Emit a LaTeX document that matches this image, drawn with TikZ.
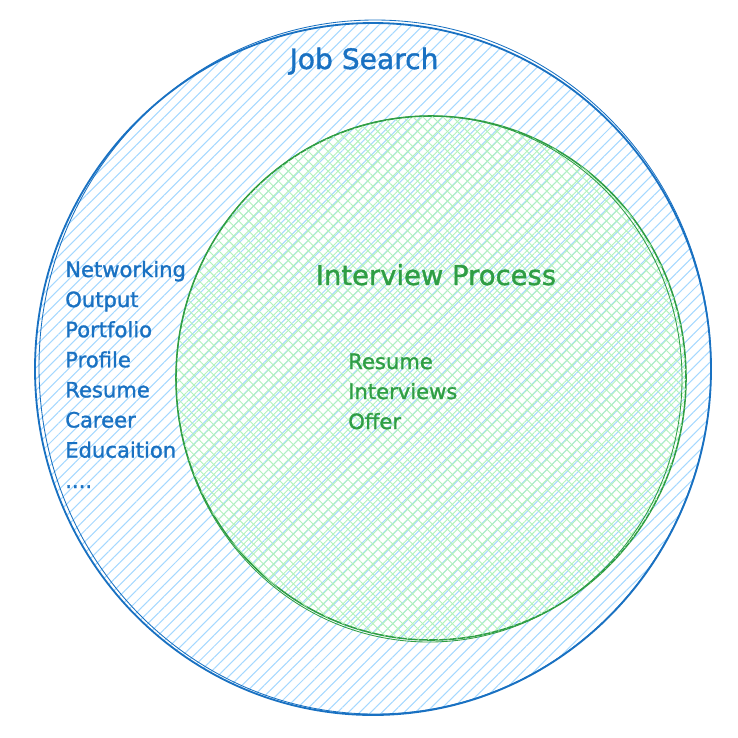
\documentclass[tikz,border=0pt]{standalone}
\usepackage{fontspec}
\setmainfont{DejaVu Sans}[BoldFont={DejaVu Sans},BoldFeatures={FakeBold=1.3}]
\usetikzlibrary{patterns.meta}
\definecolor{jsblue}{HTML}{1971C2}
\definecolor{jsbluefill}{HTML}{A5D8FF}
\definecolor{ipgreen}{HTML}{2F9E44}
\definecolor{ipgreenfill}{HTML}{B2F2BB}

\begin{document}
\begin{tikzpicture}[
    x=0.025cm, y=-0.025cm,
    % Zone styles: a hatched outer area and a cross-hatched inner area.
    jobzone/.style={
        draw=jsblue,
        line width=1.3pt,
        pattern={Lines[angle=45,distance=5.6pt,line width=0.75pt]},
        pattern color=jsbluefill
    },
    interviewzone/.style={
        draw=ipgreen,
        line width=1.1pt,
        pattern={Lines[angle=45,distance=5pt,line width=0.65pt]},
        pattern color=ipgreenfill
    },
    crosshatch/.style={
        pattern={Lines[angle=-45,distance=5pt,line width=0.65pt]},
        pattern color=ipgreenfill
    },
    sketch/.style={line width=0.6pt, fill=none},
    title/.style={anchor=base, inner sep=0pt, font=\bfseries\fontsize{20}{24}\selectfont},
    item/.style={anchor=base west, inner sep=0pt, font=\bfseries\fontsize{15}{18}\selectfont}
]
    \useasboundingbox (0,0) rectangle (738,738);

    % Outer circle: the whole job search.
    \draw[jobzone] (373,369) ellipse [x radius=338, y radius=346];
    \draw[sketch, draw=jsblue] (375,367) ellipse [x radius=336, y radius=347];

    % Inner circle: the interview process, drawn over the outer hatching.
    \draw[interviewzone] (431,378) ellipse [x radius=255, y radius=262];
    \fill[crosshatch] (431,378) ellipse [x radius=255, y radius=262];
    \draw[sketch, draw=ipgreen] (429,379) ellipse [x radius=253, y radius=263];

    \node[title, text=jsblue] (jobsearch) at (364,69) {Job Search};
    \node[title, text=ipgreen, font=\bfseries\fontsize{19.5}{23}\selectfont] (interview) at (436,285)
        {Interview Process};

    \foreach \i/\txt in {0/Networking,1/Output,2/Portfolio,3/Profile,
                        4/Resume,5/Career,6/Educaition} {
        \node[item, text=jsblue] (search-\i) at (65,{277+30.1*\i}) {\txt};
    }
    \node[item, text=jsblue] (search-more) at (65,488) {....};
    \foreach \i/\txt in {0/Resume,1/Interviews,2/Offer} {
        \node[item, text=ipgreen] (step-\i) at (348,{369+30*\i}) {\txt};
    }
\end{tikzpicture}
\end{document}
